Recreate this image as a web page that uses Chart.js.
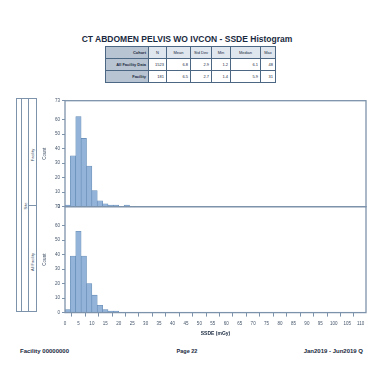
<!DOCTYPE html>
<html><head><meta charset="utf-8">
<script src="https://cdn.jsdelivr.net/npm/chart.js@4.4.1/dist/chart.umd.min.js"></script>
<style>
html,body{margin:0;padding:0;background:#fff;width:374px;height:385px;overflow:hidden;font-family:"Liberation Sans",Arial,sans-serif;}
#title{position:absolute;left:0;top:34px;width:374px;text-align:center;font-size:8.5px;font-weight:bold;color:#1a2a40;}
table{position:absolute;left:105px;top:46px;border-collapse:collapse;font-size:4px;color:#1a2a40;}
td{border:1.3px solid #4c6784;height:11px;padding:0 2px;text-align:right;background:#fff;}
td.h{background:#dfe6ee;text-align:center;}
td.l{background:#b8c4d1;font-weight:bold;}
#strips{position:absolute;left:16px;top:98px;width:21px;height:214px;border:1.3px solid #7d93ab;box-sizing:border-box;}
.v{position:absolute;top:0;bottom:0;border-left:1.3px solid #7d93ab;}
.hdiv{position:absolute;height:0;border-top:1.3px solid #7d93ab;}
.rot{position:absolute;transform:translate(-50%,-50%) rotate(-90deg);font-size:4px;color:#44556a;white-space:nowrap;}
#wrap{position:absolute;left:42px;top:96px;width:330px;height:242px;}
.foot{position:absolute;top:348px;font-size:6px;font-weight:bold;color:#1a2a40;}
</style></head><body>
<div id="title">CT ABDOMEN PELVIS WO IVCON - SSDE Histogram</div>
<table>
<tr><td class="l" style="width:38px">Cohort</td><td class="h" style="width:13px">N</td><td class="h" style="width:19px">Mean</td><td class="h" style="width:16px">Std Dev</td><td class="h" style="width:14px">Min</td><td class="h" style="width:25px">Median</td><td class="h" style="width:10px">Max</td></tr>
<tr><td class="l">All Facility Data</td><td>1523</td><td>6.8</td><td>2.9</td><td>1.2</td><td>6.1</td><td>48</td></tr>
<tr><td class="l">Facility</td><td>181</td><td>6.5</td><td>2.7</td><td>1.4</td><td>5.9</td><td>31</td></tr>
</table>
<div id="strips">
  <div class="v" style="left:4px"></div>
  <div class="v" style="left:11px"></div>
  <div class="hdiv" style="left:11px;right:0;top:106px"></div>
  <div class="rot" style="left:8px;top:107px">Site</div>
  <div class="rot" style="left:15px;top:56px">Facility</div>
  <div class="rot" style="left:15px;top:163px">All Facility</div>
</div>
<div id="wrap"><canvas id="c"></canvas></div>
<div class="foot" style="left:20px">Facility 00000000</div>
<div class="foot" style="left:0;width:374px;text-align:center;font-size:5.5px">Page 22</div>
<div class="foot" style="right:11px">Jan2019 - Jun2019 Q</div>
<script>
const binCenters = [1,3,5,7,9,11,13,15,17,19,21,23,25,27,29,31];
const topCounts = [1,35,62,47,28,11,4,2,1,1,0,1,0,0,0,0];
const bottomCounts = [2,39,56,39,20,12,5,2,1,1,0,0,0,0,0,0];
const xTickValues = [0,5,10,15,20,25,30,35,40,45,50,55,60,65,70,75,80,85,90,95,100,105,110];
const xTitle = 'SSDE (mGy)';
const yTitle = 'Count';

const toPts = arr => binCenters.map((x,i)=>({x:x,y:arr[i]}));
const tickFont = {size:4.5, family:'Liberation Sans'};
const lineCol = '#7d93ab';

const panelBorder = {
  id:'panelBorder',
  afterDraw(chart){
    const {ctx, chartArea} = chart;
    ctx.save();
    ctx.strokeStyle = lineCol; ctx.lineWidth = 1.3;
    ['yTop','yBot'].forEach(id=>{
      const s = chart.scales[id];
      ctx.strokeRect(chartArea.left, s.top, chartArea.right-chartArea.left, s.bottom-s.top);
    });
    ctx.restore();
  }
};

const yScale = () => ({
  type:'linear', position:'left', stack:'panels', stackWeight:1,
  min:0, max:73, offset:false,
  ticks:{stepSize:10, font:tickFont, color:'#44556a', padding:2},
  grid:{drawOnChartArea:false, tickLength:3, color:lineCol},
  border:{display:false},
  title:{display:true, text:yTitle, font:{size:4.5}, color:'#44556a', padding:{top:0,bottom:2}},
  afterFit(s){ s.width = 23; }
});

new Chart(document.getElementById('c'), {
  type:'bar',
  data:{datasets:[
    {data:toPts(topCounts), yAxisID:'yTop', backgroundColor:'#93b3d8', borderColor:'#6189b4', borderWidth:0.6, barPercentage:1, categoryPercentage:1, grouped:false},
    {data:toPts(bottomCounts), yAxisID:'yBot', backgroundColor:'#93b3d8', borderColor:'#6189b4', borderWidth:0.6, barPercentage:1, categoryPercentage:1, grouped:false}
  ]},
  options:{
    responsive:true, maintainAspectRatio:false, animation:false,
    layout:{padding:{left:0,right:6,top:4,bottom:0}},
    plugins:{legend:{display:false}, tooltip:{enabled:false}},
    scales:{
      x:{type:'linear', min:0, max:112, offset:false,
         ticks:{font:tickFont, color:'#44556a', padding:4, maxRotation:0, autoSkip:false},
         afterBuildTicks(s){ s.ticks = xTickValues.map(v=>({value:v})); },
         grid:{drawOnChartArea:false, tickLength:4, color:lineCol},
         border:{display:false},
         title:{display:true, text:xTitle, font:{size:5, weight:'bold'}, color:'#1a2a40', padding:1}},
      yBot: yScale(),
      yTop: yScale()
    }
  },
  plugins:[panelBorder]
});
</script>
</body></html>
